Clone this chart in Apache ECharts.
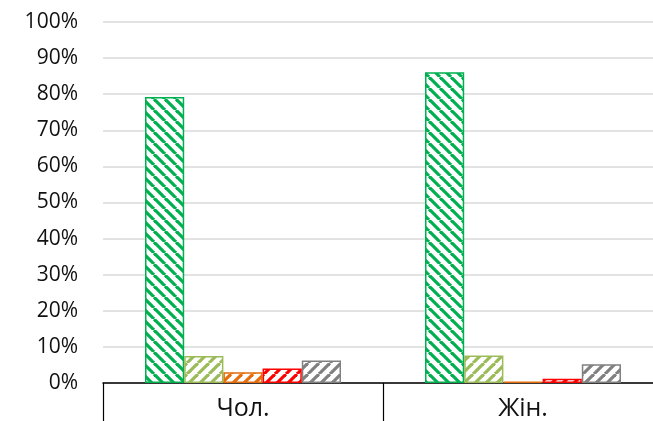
<!DOCTYPE html>
<html>
<head>
    <meta charset="utf-8">
    <title>Чол. / Жін.</title>
    <script src="https://cdn.jsdelivr.net/npm/echarts@6/dist/echarts.min.js"></script>
</head>
<body style="margin:0">
    <div id="chart" style="width: 653px;height:421px;"></div>

    <script>
        // дані
        const categories = ['Чол.', 'Жін.'];
        const s1 = [79.2, 86.1];
        const s2 = [7.5, 7.6];
        const s3 = [3.0, 0.4];
        const s4 = [4.0, 1.2];
        const s5 = [6.2, 5.2];
        const colors = ['#00b050', '#9bbb59', '#e46c0a', '#ff0000', '#808080'];
        const dirs = ['back', 'fwd', 'fwd', 'fwd', 'fwd'];

        // штрихування
        function hatch(color, dir) {
            const n = 11;
            const c = document.createElement('canvas');
            c.width = n; c.height = n;
            const ctx = c.getContext('2d');
            ctx.fillStyle = '#fff';
            ctx.fillRect(0, 0, n, n);
            ctx.strokeStyle = color;
            ctx.lineWidth = 3.2;
            for (let k = -n; k <= n; k += n) {
                ctx.beginPath();
                if (dir === 'back') {
                    ctx.moveTo(k, 0); ctx.lineTo(k + n, n);
                } else {
                    ctx.moveTo(k + n, 0); ctx.lineTo(k, n);
                }
                ctx.stroke();
            }
            return c;
        }

        const chart = echarts.init(document.getElementById('chart'));
        const font = '"Open Sans", sans-serif';

        const series = [s1, s2, s3, s4, s5].map(function (d, i) {
            return {
                type: 'bar',
                data: d,
                barGap: '0%',
                barCategoryGap: '30%',
                itemStyle: {
                    color: { image: hatch(colors[i], dirs[i]), repeat: 'repeat' },
                    borderColor: colors[i],
                    borderWidth: 1.5
                }
            };
        });

        const option = {
            animation: false,
            grid: { left: 103, width: 560, top: 22, bottom: 38, outerBoundsMode: 'none', containLabel: false },
            xAxis: {
                type: 'category',
                data: categories,
                axisLine: { lineStyle: { color: '#000', width: 1.5 } },
                axisTick: { show: true, interval: 0, length: 40, lineStyle: { color: '#000', width: 1.2 } },
                axisLabel: { color: '#111', fontSize: 25, fontFamily: font, margin: 13 }
            },
            yAxis: {
                type: 'value',
                min: 0,
                max: 100,
                interval: 10,
                axisLine: { show: false },
                axisTick: { show: false },
                axisLabel: { formatter: '{value}%', color: '#111', fontSize: 21, fontFamily: font, margin: 25 },
                splitLine: { lineStyle: { color: '#d9d9d9', width: 1.5 } }
            },
            series: series
        };

        chart.setOption(option);
    </script>
</body>
</html>
